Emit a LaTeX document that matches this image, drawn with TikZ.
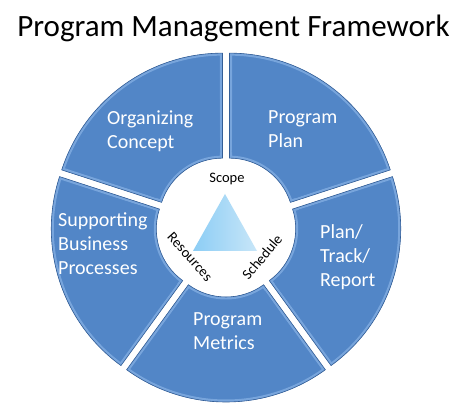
\documentclass[tikz,border=0pt]{standalone}
\usepackage{fontspec}
\setmainfont{Carlito}
\usetikzlibrary{calc}
\definecolor{segblue}{RGB}{82,134,199}
\definecolor{segdark}{RGB}{52,94,150}
\definecolor{seglight}{RGB}{120,165,220}
\definecolor{tritop}{RGB}{200,230,248}
\definecolor{trileft}{RGB}{140,205,245}
\newcommand\wheelseg[2]{%
  \begin{scope}[shift={(C)}, shift={({(#1+#2)/2}:6pt)}]
    \path[fill=segblue] (#1:64pt) -- (#1:169pt) arc[start angle=#1, end angle=#2, radius=169pt] -- (#2:64pt) arc[start angle=#2, end angle=#1, radius=64pt] -- cycle;
    \begin{scope}
      \clip (#1:64pt) -- (#1:169pt) arc[start angle=#1, end angle=#2, radius=169pt] -- (#2:64pt) arc[start angle=#2, end angle=#1, radius=64pt] -- cycle;
      \draw[seglight, line width=5pt, line join=miter] (#1:64pt) -- (#1:169pt) arc[start angle=#1, end angle=#2, radius=169pt] -- (#2:64pt) arc[start angle=#2, end angle=#1, radius=64pt] -- cycle;
    \end{scope}
    \draw[segdark, line width=0.6pt] (#1:64pt) -- (#1:169pt) arc[start angle=#1, end angle=#2, radius=169pt] -- (#2:64pt) arc[start angle=#2, end angle=#1, radius=64pt] -- cycle;
    \begin{scope}
      \clip (#1:64pt) -- (#1:169pt) arc[start angle=#1, end angle=#2, radius=169pt] -- (#2:64pt) arc[start angle=#2, end angle=#1, radius=64pt] -- cycle;
      \path[fill=segblue] (#1+2:70pt) -- (#1+1.5:164pt) arc[start angle=#1+1.5, end angle=#2-1.5, radius=164pt] -- (#2-2:70pt) arc[start angle=#2-2, end angle=#1+2, radius=70pt] -- cycle;
    \end{scope}
  \end{scope}}
\tikzset{
  seglabel/.style={text=white, font=\fontsize{20}{24}\selectfont, align=left, anchor=west, inner sep=0pt},
  corelabel/.style={text=black, font=\fontsize{14.5}{17}\selectfont, inner sep=0pt},
  titlelabel/.style={text=black, font=\fontsize{31}{36}\selectfont, inner sep=0pt, anchor=base}
}
\begin{document}
\begin{tikzpicture}[x=1pt, y=1pt]
  \useasboundingbox (0,0) rectangle (474,414);
  \fill[white] (0,0) rectangle (474,414);
  \coordinate (C) at (226,187);
  \node[titlelabel] (title) at (233.5,377) {Program Management Framework};
  \wheelseg{18}{90}
  \wheelseg{90}{162}
  \wheelseg{162}{234}
  \wheelseg{234}{306}
  \wheelseg{306}{378}
  \node[seglabel] (org) at (107,282.5) {Organizing\\Concept};
  \node[seglabel] (plan) at (268,285) {Program\\Plan};
  \node[seglabel] (supp) at (58,170) {Supporting\\Business\\Processes};
  \node[seglabel] (ptr) at (320,157) {Plan/\\Track/\\Report};
  \node[seglabel] (metrics) at (193,82.5) {Program\\Metrics};
  \coordinate (tA) at (225,220);
  \coordinate (tB) at (193,163);
  \coordinate (tC) at (257,163);
  \shade[left color=trileft, right color=tritop] (tA) -- (tB) -- (tC) -- cycle;
  \node[corelabel, anchor=base] (scope) at (227,231) {Scope};
  \node[corelabel, rotate=-48] (res) at (190,157) {Resources};
  \node[corelabel, rotate=50] (sched) at (262,157) {Schedule};
\end{tikzpicture}
\end{document}
